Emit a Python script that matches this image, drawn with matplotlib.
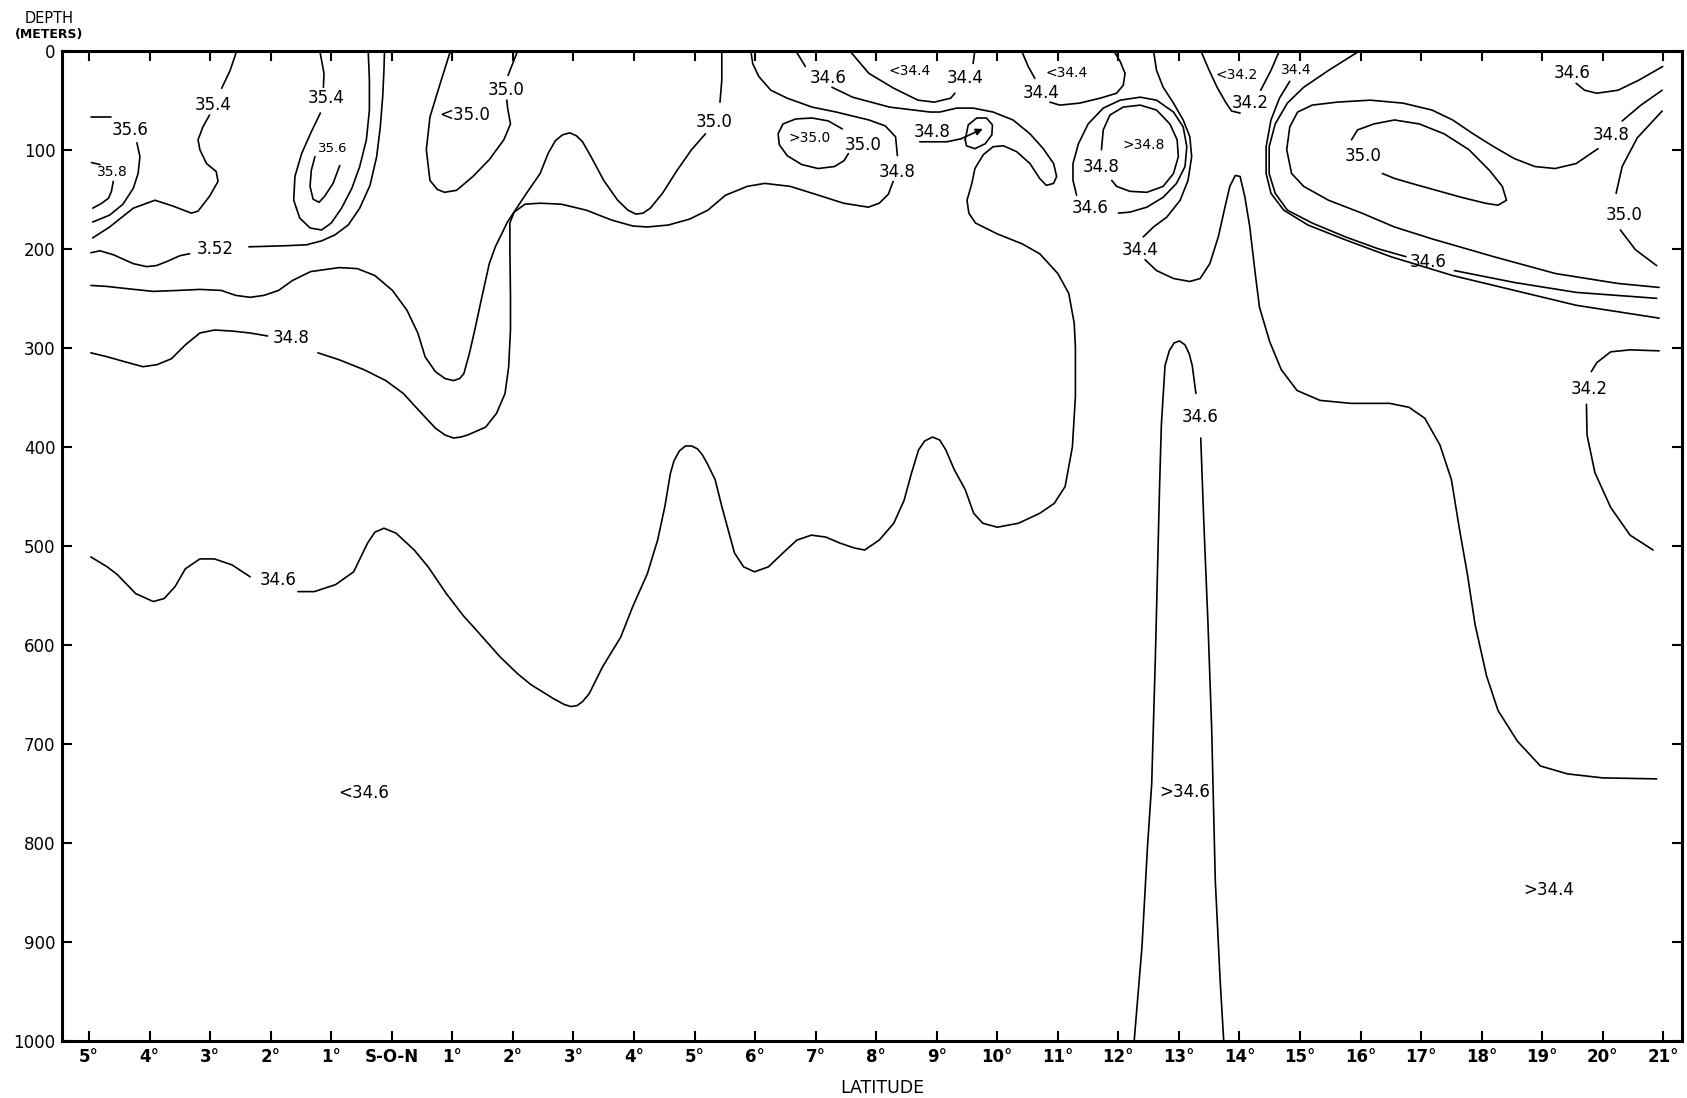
import matplotlib.pyplot as plt

# --- 35.8 / 35.6 / 35.4 near 5-3 S
c358_dash = [(-4.96, 113), (-4.82, 115)]
c358 = [(-4.60, 132), (-4.63, 142), (-4.68, 149), (-4.79, 154), (-4.94, 159)]
c356_dash = [(-4.96, 67), (-4.63, 67)]
c356 = [(-4.21, 93), (-4.16, 107), (-4.19, 124), (-4.27, 139), (-4.44, 155),
        (-4.66, 166), (-4.94, 173)]
c354_a = [(-4.94, 189), (-4.66, 178), (-4.27, 159), (-3.91, 151), (-3.61, 157),
          (-3.31, 164), (-3.20, 162), (-3.01, 147), (-2.87, 132), (-2.90, 122),
          (-3.06, 114), (-3.17, 100), (-3.20, 90), (-3.12, 77), (-3.01, 65)]
c354_b = [(-2.81, 38), (-2.67, 20), (-2.56, 0)]

# --- 35.4 / 35.6 loop near 1 S
c354_c = [(-1.19, 0), (-1.12, 23), (-1.13, 37)]
c354_d = [(-1.18, 63), (-1.33, 82), (-1.49, 104), (-1.60, 127), (-1.62, 151),
          (-1.52, 169), (-1.35, 179), (-1.16, 181), (-1.00, 174), (-0.83, 159),
          (-0.66, 139), (-0.53, 117), (-0.42, 90), (-0.37, 60), (-0.37, 30),
          (-0.39, 0)]
c356_b = [(-1.27, 107), (-1.33, 121), (-1.35, 137), (-1.30, 150), (-1.20, 153),
          (-1.11, 147), (-0.97, 134), (-0.86, 116)]

# --- 35.2
c352_a = [(-4.97, 204), (-4.82, 202), (-4.60, 206), (-4.27, 215), (-4.05, 218),
          (-3.89, 217), (-3.72, 213), (-3.50, 207), (-3.34, 205)]
c352_b = [(-2.36, 198), (-1.79, 197), (-1.41, 196), (-1.16, 192), (-0.94, 186),
          (-0.72, 176), (-0.53, 159), (-0.36, 136), (-0.25, 107), (-0.19, 77),
          (-0.15, 46), (-0.13, 20), (-0.12, 0)]

# --- 35.0
c350_a = [(-4.97, 237), (-4.70, 238), (-4.41, 240), (-3.94, 243), (-3.52, 242),
          (-3.17, 241), (-2.82, 242), (-2.58, 247), (-2.34, 249), (-2.11, 247),
          (-1.87, 242), (-1.64, 232), (-1.34, 223), (-0.87, 219), (-0.57, 220),
          (-0.28, 227), (0.01, 242), (0.25, 262), (0.43, 285), (0.55, 309),
          (0.72, 324), (0.88, 331), (1.02, 333), (1.12, 331), (1.19, 326),
          (1.28, 306), (1.37, 282), (1.49, 248), (1.61, 215), (1.71, 198),
          (1.91, 173), (2.18, 148), (2.45, 124), (2.58, 104), (2.70, 91),
          (2.82, 85), (2.94, 83), (3.05, 86), (3.15, 92), (3.29, 107),
          (3.50, 131), (3.73, 151), (3.90, 161), (4.03, 165), (4.15, 164),
          (4.27, 159), (4.47, 144), (4.71, 121), (4.95, 100), (5.18, 84)]
c350_b = [(5.42, 52), (5.45, 30), (5.45, 0)]
c350_pocket_a = [(0.97, 0), (0.80, 33), (0.63, 67), (0.57, 100), (0.63, 131),
                 (0.75, 140), (0.87, 143), (1.07, 141), (1.34, 127), (1.61, 110),
                 (1.85, 90), (1.96, 74), (1.91, 57), (1.90, 50)]
c350_pocket_b = [(1.92, 25), (2.08, 0)]
c350_eddy = [(7.44, 79), (7.21, 71), (6.94, 68), (6.67, 69), (6.46, 74),
             (6.38, 84), (6.40, 95), (6.53, 106), (6.77, 115), (7.04, 119),
             (7.31, 117), (7.47, 111), (7.54, 104)]
c350_core = [(16.36, 124), (16.56, 129), (16.84, 134), (17.25, 141), (17.66, 148),
             (18.06, 154), (18.27, 156), (18.41, 151), (18.34, 137), (18.13, 121),
             (17.79, 100), (17.38, 84), (16.97, 74), (16.56, 70), (16.22, 74),
             (15.95, 80), (15.85, 90)]
c350_right_a = [(20.98, 61), (20.57, 88), (20.32, 117), (20.22, 144)]
c350_right_b = [(20.29, 181), (20.54, 201), (20.89, 217)]

# --- 34.8
c348_a = [(-4.97, 305), (-4.70, 309), (-4.41, 314), (-4.11, 319), (-3.88, 317),
          (-3.64, 311), (-3.41, 297), (-3.17, 285), (-2.93, 282), (-2.64, 283),
          (-2.34, 285), (-2.05, 288)]
c348_b = [(-1.22, 305), (-0.87, 312), (-0.46, 322), (-0.10, 333), (0.19, 346),
          (0.49, 366), (0.72, 381), (0.88, 388), (1.02, 391), (1.14, 390),
          (1.25, 388), (1.55, 380), (1.73, 366), (1.87, 346), (1.93, 319),
          (1.96, 282), (1.96, 248), (1.95, 198), (1.95, 174), (2.02, 163),
          (2.20, 155), (2.45, 154), (2.80, 155), (3.21, 161), (3.63, 171),
          (3.98, 177), (4.22, 178), (4.57, 176), (4.92, 170), (5.22, 161),
          (5.51, 146), (5.87, 137), (6.16, 134), (6.58, 137), (7.05, 146),
          (7.46, 154), (7.87, 158), (8.05, 154), (8.20, 145), (8.28, 132)]
c348_c = [(8.35, 106), (8.32, 87), (8.15, 76), (7.88, 70), (7.34, 62), (6.94, 57),
          (6.53, 48), (6.26, 40), (6.06, 26), (5.96, 13), (5.93, 0)]
c348_eddy = [(9.47, 90), (9.52, 75), (9.66, 68), (9.82, 68), (9.92, 75),
             (9.91, 85), (9.80, 94), (9.63, 99), (9.49, 96), (9.47, 90)]
c348_pointer = [(8.72, 92), (9.17, 92), (9.40, 89)]
c348_loop = [(11.72, 100), (11.75, 80), (11.86, 65), (12.08, 57), (12.36, 55),
             (12.63, 60), (12.85, 74), (12.97, 90), (12.99, 107), (12.91, 124),
             (12.74, 137), (12.47, 143), (12.19, 142), (11.97, 137), (11.89, 131)]
c348_tongue_a = [(20.98, 40), (20.63, 55), (20.32, 71)]
c348_tongue_b = [(19.92, 99), (19.56, 114), (19.21, 119), (18.88, 117), (18.54, 109),
                 (18.20, 97), (17.86, 84), (17.52, 70), (17.18, 60), (16.70, 53),
                 (16.16, 50), (15.61, 52), (15.20, 55), (14.96, 62), (14.83, 77),
                 (14.78, 100), (14.86, 124), (15.06, 137), (15.47, 151), (16.02, 164),
                 (16.56, 178), (17.18, 190), (18.20, 208), (19.22, 225), (20.25, 235),
                 (20.93, 239)]

# --- 34.6
c346_a = [(-4.97, 511), (-4.70, 521), (-4.53, 529), (-4.23, 548), (-3.94, 556),
          (-3.76, 553), (-3.58, 541), (-3.41, 523), (-3.17, 513), (-2.93, 513),
          (-2.64, 519), (-2.34, 531)]
c346_b = [(-1.55, 546), (-1.28, 546), (-0.93, 539), (-0.63, 526), (-0.40, 497),
          (-0.28, 486), (-0.13, 482), (0.07, 487), (0.37, 504), (0.60, 521),
          (0.90, 548), (1.19, 571), (1.34, 581), (1.79, 612), (2.08, 629),
          (2.30, 640), (2.67, 654), (2.85, 660), (2.96, 662), (3.06, 661),
          (3.15, 657), (3.26, 649), (3.48, 622), (3.78, 592), (3.98, 561),
          (4.22, 528), (4.39, 494), (4.51, 460), (4.60, 427), (4.66, 414),
          (4.75, 404), (4.85, 399), (4.95, 399), (5.05, 402), (5.13, 408),
          (5.22, 418), (5.34, 433), (5.45, 460), (5.57, 487), (5.66, 507),
          (5.81, 521), (5.99, 526), (6.22, 521), (6.46, 507), (6.69, 494),
          (6.93, 489), (7.17, 491), (7.40, 497), (7.64, 502), (7.81, 504),
          (8.05, 494), (8.29, 477), (8.46, 454), (8.58, 427), (8.70, 403),
          (8.80, 394), (8.93, 390), (9.05, 393), (9.15, 403), (9.29, 423),
          (9.47, 443), (9.61, 467), (9.76, 477), (10.00, 481), (10.35, 477),
          (10.70, 467), (10.94, 457), (11.12, 440), (11.24, 400), (11.29, 349),
          (11.29, 299), (11.27, 275), (11.18, 245), (11.00, 225), (10.70, 205),
          (10.41, 195), (10.00, 185), (9.64, 174), (9.53, 164), (9.50, 151),
          (9.58, 134), (9.63, 119), (9.77, 105), (9.93, 97), (10.10, 96),
          (10.32, 102), (10.54, 114), (10.70, 129), (10.81, 136), (10.93, 134),
          (10.98, 127), (10.93, 114), (10.76, 99), (10.54, 84), (10.26, 70),
          (9.93, 62), (9.60, 58), (9.33, 58), (9.05, 62), (8.89, 62),
          (8.22, 57), (7.61, 47), (7.27, 37)]
c346_c = [(6.83, 16), (6.67, 0)]
c346_loop = [(11.31, 146), (11.25, 131), (11.25, 114), (11.34, 94), (11.50, 74),
             (11.75, 58), (12.03, 50), (12.36, 47), (12.63, 50), (12.91, 62),
             (13.07, 77), (13.13, 97), (13.10, 117), (12.96, 134), (12.74, 148),
             (12.47, 158), (12.19, 163), (12.00, 164)]
c346_tongue_a = [(12.26, 1000), (12.39, 904), (12.48, 804), (12.55, 740),
                 (12.61, 614), (12.68, 440), (12.71, 377), (12.77, 318),
                 (12.84, 303), (12.92, 295), (13.01, 293), (13.10, 297),
                 (13.17, 306), (13.22, 318), (13.28, 346)]
c346_tongue_b = [(13.36, 391), (13.41, 475), (13.48, 579), (13.54, 683),
                 (13.57, 760), (13.60, 837), (13.68, 938), (13.74, 1000)]
c346_wrap_a = [(15.99, 0), (15.47, 20), (15.06, 37), (14.79, 53), (14.59, 74),
               (14.49, 97), (14.49, 124), (14.59, 144), (14.79, 161), (15.20, 174),
               (15.75, 188), (16.29, 200), (16.75, 208)]
c346_wrap_b = [(17.55, 222), (18.54, 234), (19.56, 244), (20.89, 250)]
c346_corner = [(19.56, 33), (19.70, 40), (19.90, 43), (20.25, 40), (20.59, 30),
               (20.99, 16)]

# --- 34.4
c344_a = [(7.56, 0), (7.88, 23), (8.29, 38), (8.69, 50), (8.96, 52), (9.23, 48),
          (9.30, 43)]
c344_b = [(9.60, 13), (9.63, 0)]
c344_pocket_a = [(10.40, 0), (10.51, 16), (10.62, 28)]
c344_pocket_b = [(10.87, 52), (11.03, 55), (11.36, 53), (11.70, 48), (11.97, 43),
                 (12.08, 35), (12.11, 23), (12.03, 11), (11.92, 0)]
c344_c = [(12.58, 0), (12.63, 20), (12.74, 37), (12.91, 53), (13.07, 70),
          (13.18, 87), (13.21, 107), (13.15, 131), (13.02, 151), (12.80, 168),
          (12.58, 178), (12.41, 188)]
c344_d = [(12.44, 211), (12.63, 222), (12.91, 230), (13.18, 233), (13.35, 230),
          (13.51, 215), (13.65, 188), (13.76, 158), (13.84, 137), (13.93, 126),
          (14.01, 127), (14.09, 148), (14.17, 178), (14.26, 225), (14.33, 259),
          (14.50, 294), (14.69, 322), (14.95, 343), (15.33, 353), (15.84, 356),
          (16.48, 356), (16.80, 360), (17.06, 371), (17.31, 398), (17.50, 433),
          (17.63, 482), (17.76, 527), (17.89, 579), (18.08, 631), (18.27, 666),
          (18.59, 697), (18.97, 722), (19.42, 730), (20.00, 734), (20.89, 735)]
c344_wrap = [(14.83, 31), (14.66, 48), (14.52, 70), (14.44, 97), (14.44, 124),
             (14.52, 144), (14.73, 161), (15.13, 176), (15.75, 191), (16.50, 208),
             (17.52, 227), (18.54, 242), (19.56, 257), (20.93, 270)]

# --- 34.2
c342_a = [(13.36, 0), (13.50, 20), (13.63, 37), (13.77, 52), (13.87, 61), (14.01, 63)]
c342_b = [(14.35, 40), (14.52, 20), (14.66, 0)]
c342_right_a = [(20.93, 303), (20.45, 302), (20.13, 304), (19.90, 315), (19.81, 324)]
c342_right_b = [(19.73, 357), (19.74, 388), (19.87, 426), (20.13, 461),
                (20.45, 489), (20.83, 504)]

contours = [c358_dash, c358, c356_dash, c356, c354_a, c354_b, c354_c, c354_d,
            c356_b, c352_a, c352_b, c350_a, c350_b, c350_pocket_a, c350_pocket_b,
            c350_eddy, c350_core, c350_right_a, c350_right_b, c348_a, c348_b,
            c348_c, c348_eddy, c348_pointer, c348_loop, c348_tongue_a,
            c348_tongue_b, c346_a, c346_b, c346_c, c346_loop, c346_tongue_a,
            c346_tongue_b, c346_wrap_a, c346_wrap_b, c346_corner, c344_a, c344_b,
            c344_pocket_a, c344_pocket_b, c344_c, c344_d, c344_wrap, c342_a,
            c342_b, c342_right_a, c342_right_b]

# labels: text, latitude, depth, font size
labels = [
    ("35.6", -4.32, 80, 12), ("35.8", -4.62, 123, 10), ("35.4", -2.95, 55, 12),
    ("3.52", -2.92, 200, 12), ("35.4", -1.08, 48, 12), ("35.6", -0.97, 99, 9.5),
    ("<35.0", 1.20, 65, 12), ("35.0", 1.88, 40, 12), ("35.0", 5.32, 72, 12),
    ("34.8", -1.67, 290, 12), ("34.6", -1.87, 534, 12), ("<34.6", -0.46, 749, 12),
    ("34.6", 7.21, 28, 12), ("<34.4", 8.55, 21, 10), ("34.4", 9.47, 28, 12),
    (">35.0", 6.90, 88, 10), ("35.0", 7.78, 95, 12), ("34.8", 8.35, 123, 12),
    ("34.8", 8.92, 82, 12), ("<34.4", 11.14, 23, 10), ("34.4", 10.73, 43, 12),
    (">34.8", 12.41, 95, 10), ("34.8", 11.72, 117, 12), ("34.6", 11.53, 159, 12),
    ("34.4", 12.36, 201, 12), ("<34.2", 13.95, 25, 10), ("34.2", 14.18, 53, 12),
    ("34.4", 14.94, 20, 10), ("35.0", 16.05, 106, 12), ("34.6", 17.11, 213, 12),
    ("34.6", 19.50, 23, 12), ("34.8", 20.13, 85, 12), ("35.0", 20.36, 166, 12),
    ("34.2", 19.77, 342, 12), ("34.6", 13.35, 370, 12), (">34.6", 13.09, 748, 12),
    (">34.4", 19.10, 847, 12),
]

lat_ticks = list(range(-5, 22))
lat_labels = [("S-O-N" if v == 0 else "%d°" % abs(v)) for v in lat_ticks]
depth_ticks = list(range(0, 1001, 100))

fig = plt.figure(figsize=(16.87, 10.98), dpi=100)
ax = fig.add_axes([0.037, 0.0515, 0.9601, 0.9024])

for pts in contours:
    lat, depth = zip(*pts)
    ax.plot(lat, depth, color="black", lw=1.2,
            solid_joinstyle="round", solid_capstyle="round")

ax.annotate("", xy=(9.76, 79), xytext=(9.40, 89),
            arrowprops=dict(arrowstyle="-|>", color="black", lw=1.2,
                            mutation_scale=10, shrinkA=0, shrinkB=0))

for txt, la, de, size in labels:
    ax.text(la, de, txt, ha="center", va="center", fontsize=size)

ax.set_xlim(-5.44, 21.31)
ax.set_ylim(1000, 0)
ax.set_xticks(lat_ticks)
ax.set_xticklabels(lat_labels, fontsize=12, fontweight="bold")
ax.set_yticks(depth_ticks)
ax.set_yticklabels([str(d) for d in depth_ticks], fontsize=12)
ax.tick_params(direction="in", length=7, width=1.5, top=True, right=True, pad=5)
for sp in ax.spines.values():
    sp.set_linewidth(2.2)

fig.text(0.029, 0.983, "DEPTH", ha="center", va="center", fontsize=10.5)
fig.text(0.029, 0.9685, "(METERS)", ha="center", va="center", fontsize=9,
         fontweight="bold")
fig.text(0.523, 0.009, "LATITUDE", ha="center", va="center", fontsize=12.5)

fig.savefig("out.png", dpi=100)
